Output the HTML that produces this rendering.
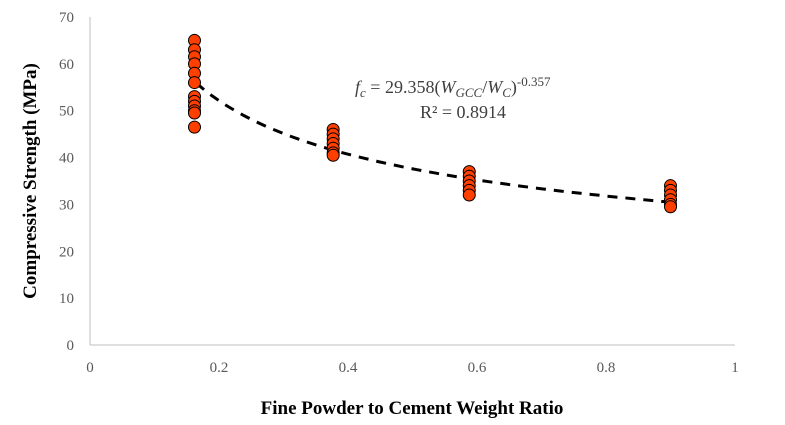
<!DOCTYPE html>
<html><head><meta charset="utf-8"><style>
html,body{margin:0;padding:0;background:#fff;width:785px;height:425px;overflow:hidden}
svg{font-family:"Liberation Serif",serif}
</style></head><body>
<svg id="chart" width="785" height="425">
<g id="axes"></g>
<g id="trend"></g>
<g id="pts"></g>
<text x="355" y="93" font-size="18" fill="#404040"><tspan font-style="italic">f</tspan><tspan font-style="italic" font-size="13" dy="4">c</tspan><tspan dy="-4"> = 29.358(</tspan><tspan font-style="italic">W</tspan><tspan font-style="italic" font-size="13" dy="4">GCC</tspan><tspan dy="-4">/</tspan><tspan font-style="italic">W</tspan><tspan font-style="italic" font-size="13" dy="4">C</tspan><tspan dy="-4">)</tspan><tspan font-size="13" dy="-7">-0.357</tspan></text>
<text x="420" y="118" font-size="18" fill="#404040">R² = 0.8914</text>
<text transform="translate(36,181) rotate(-90)" text-anchor="middle" font-size="19" font-weight="bold" fill="#000">Compressive Strength (MPa)</text>
<text x="412" y="414" text-anchor="middle" font-size="19" font-weight="bold" fill="#000">Fine Powder to Cement Weight Ratio</text>
</svg>
<script>
const xTicks=[0,0.2,0.4,0.6,0.8,1];
const xTickLabels=["0","0.2","0.4","0.6","0.8","1"];
const yTicks=[0,10,20,30,40,50,60,70];
const xValues=[0.162,0.162,0.162,0.162,0.162,0.162,0.162,0.162,0.162,0.162,0.162,0.162,
0.377,0.377,0.377,0.377,0.377,0.377,0.377,
0.588,0.588,0.588,0.588,0.588,0.588,
0.9,0.9,0.9,0.9,0.9,0.9];
const yValues=[65,63,61.5,60,58,56,53,52,51,50,49.5,46.5,
46,45,44,43,42,41,40.5,
37,36,35,34,33,32,
34,33,32,31,30,29.5];
const trendA=29.358, trendB=-0.357, trendMin=0.165, trendMax=0.9;
const X=v=>90+v*645, Y=v=>345-v*4.686;
const NS="http://www.w3.org/2000/svg";
function mk(tag,attrs,parent){const e=document.createElementNS(NS,tag);for(const k in attrs)e.setAttribute(k,attrs[k]);parent.appendChild(e);return e;}
const axes=document.getElementById('axes');
let l=mk('line',{x1:X(0),x2:X(0),y1:Y(70),y2:Y(0),stroke:'#bfbfbf'},axes);


l=mk('line',{x1:X(0),x2:X(1),y1:Y(0),y2:Y(0),stroke:'#bfbfbf'},axes);


yTicks.forEach(t=>{const e=mk('text',{x:X(0)-16,y:Y(t)+5,'text-anchor':'end','font-size':15,fill:'#595959'},axes);e.textContent=t;

});
xTicks.forEach((t,i)=>{const e=mk('text',{x:X(t),y:Y(0)+27,'text-anchor':'middle','font-size':15,fill:'#595959'},axes);e.textContent=xTickLabels[i];

});
let d='';for(let i=0;i<=60;i++){const x=trendMin+(trendMax-trendMin)*i/60;d+=(i?'L':'M')+X(x).toFixed(1)+','+Y(trendA*Math.pow(x,trendB)).toFixed(1);}
const tp=mk('path',{d:d,fill:'none',stroke:'#000','stroke-width':3,'stroke-dasharray':'10,8'},document.getElementById('trend'));


const pts=document.getElementById('pts');
xValues.forEach((x,i)=>{const c=mk('circle',{cx:X(x),cy:Y(yValues[i]),r:6,fill:'#ff3f00',stroke:'#000','stroke-width':1},pts);

});
</script>
</body></html>
